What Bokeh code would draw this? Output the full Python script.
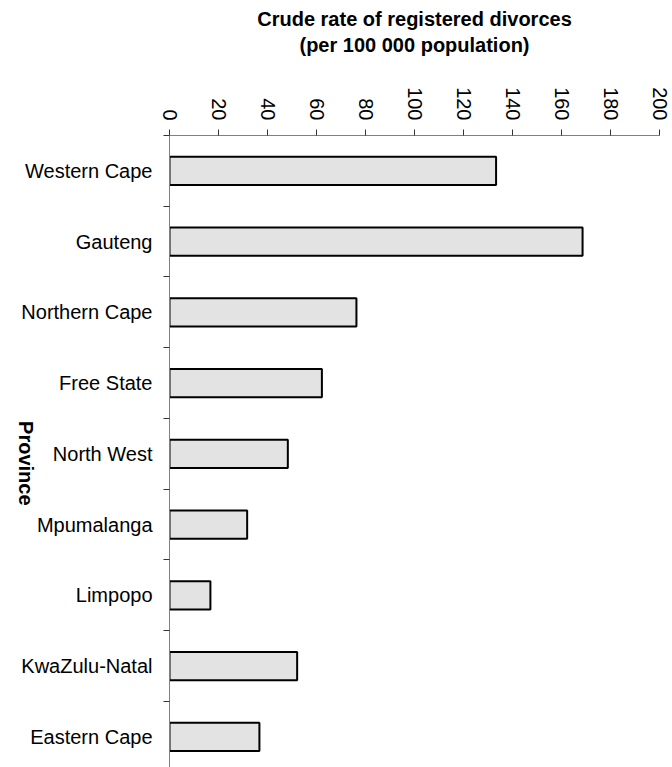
import math
from bokeh.plotting import figure
from bokeh.models import Range1d, FixedTicker, LinearAxis
from bokeh.embed import file_html
from bokeh.resources import INLINE

provinces = ["Western Cape", "Gauteng", "Northern Cape", "Free State", "North West",
             "Mpumalanga", "Limpopo", "KwaZulu-Natal", "Eastern Cape"]
rates = [133.3, 168.6, 76.3, 62.2, 48.3, 31.7, 16.7, 52.1, 36.7]
x_ticks = [0, 20, 40, 60, 80, 100, 120, 140, 160, 180, 200]
y_title = "Province"
y_title_pos = 3.77

n = len(provinces)
ys = [n - 0.5 - i for i in range(n)]
bounds = [float(i) for i in range(n + 1)]

FONT = "Liberation Sans"

p = figure(width=672, height=767, output_backend="svg", toolbar_location=None,
           x_axis_location="above", x_range=Range1d(0, 200), y_range=Range1d(0.067, 9),
           min_border_left=169, min_border_top=135, min_border_right=13, min_border_bottom=0)
p.outline_line_color = None
p.xgrid.visible = False
p.ygrid.visible = False
p.background_fill_color = "white"
p.border_fill_color = "white"

p.hbar(y=ys, left=0, right=rates, height=0.4, fill_color="#e3e3e3",
       line_color="black", line_width=2)

xa = p.xaxis[0]
xa.ticker = FixedTicker(ticks=x_ticks, minor_ticks=[])
xa.major_label_orientation = -math.pi / 2
xa.major_label_text_font = FONT
xa.major_label_text_font_size = "20px"
xa.major_label_text_color = "black"
xa.major_tick_out = 6
xa.major_tick_in = 0
xa.minor_tick_out = 0
xa.minor_tick_in = 0
xa.major_tick_line_color = "#333333"
xa.axis_line_color = "#808080"
xa.major_label_standoff = 9
xa.axis_label = "Crude rate of registered divorces\n(per 100 000 population)"
xa.axis_label_text_font = FONT
xa.axis_label_text_font_size = "20px"
xa.axis_label_text_font_style = "bold"
xa.axis_label_text_color = "black"
xa.axis_label_standoff = 28

ya = p.yaxis[0]
ya.ticker = FixedTicker(ticks=ys, minor_ticks=bounds)
ya.major_label_overrides = {y: name for y, name in zip(ys, provinces)}
ya.major_label_text_font = FONT
ya.major_label_text_font_size = "20px"
ya.major_label_text_color = "black"
ya.major_tick_out = 0
ya.major_tick_in = 0
ya.minor_tick_out = 6
ya.minor_tick_in = 0
ya.minor_tick_line_color = "#333333"
ya.axis_line_color = "#808080"
ya.major_label_standoff = 11

lab_axis = LinearAxis(ticker=FixedTicker(ticks=[y_title_pos], minor_ticks=[]))
lab_axis.major_label_overrides = {y_title_pos: y_title}
lab_axis.axis_line_color = None
lab_axis.major_tick_out = 0
lab_axis.major_tick_in = 0
lab_axis.minor_tick_out = 0
lab_axis.minor_tick_in = 0
lab_axis.major_label_orientation = -math.pi / 2
lab_axis.major_label_standoff = -7
lab_axis.major_label_text_font = FONT
lab_axis.major_label_text_font_size = "20px"
lab_axis.major_label_text_font_style = "bold"
lab_axis.major_label_text_color = "black"
p.add_layout(lab_axis, "left")

open("out.html", "w").write(file_html(p, INLINE))
